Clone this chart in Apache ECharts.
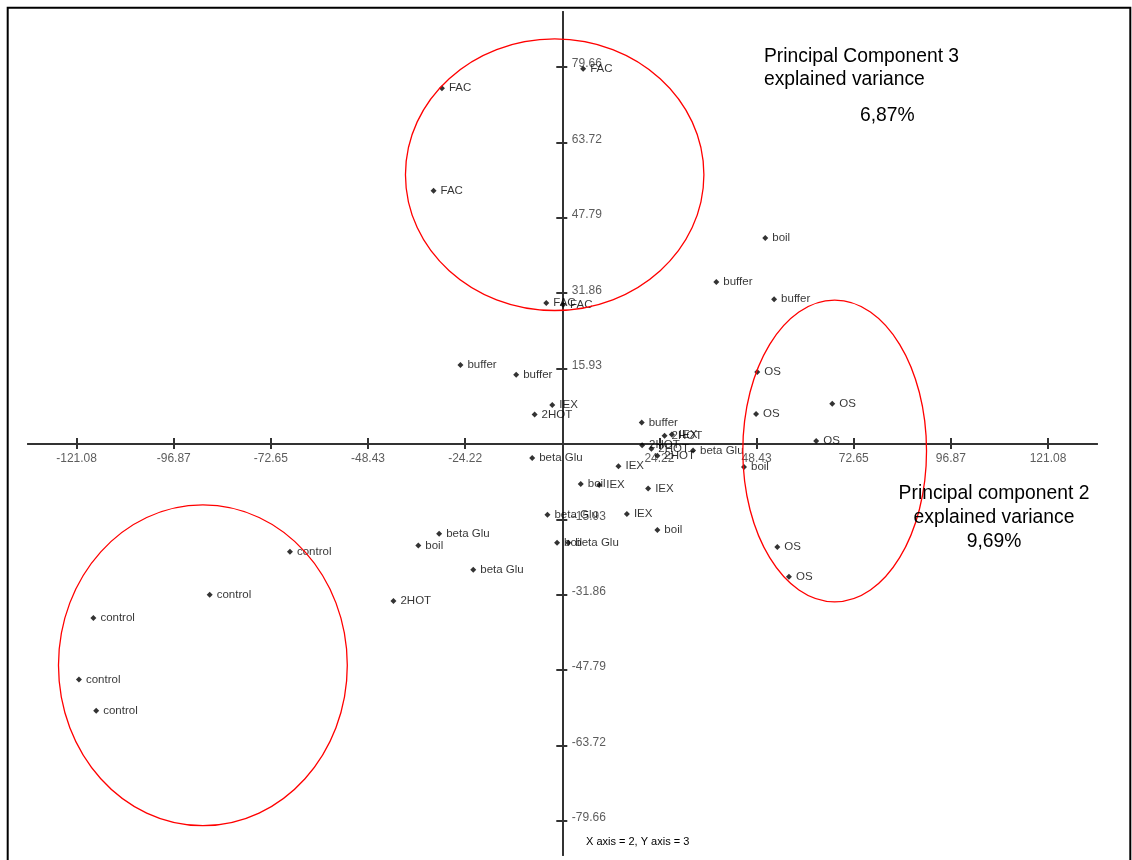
<!DOCTYPE html>
<html lang="en">
<head>
<meta charset="UTF-8">
<title>PCA scores</title>
<script src="https://cdn.jsdelivr.net/npm/echarts@6.0.0/dist/echarts.min.js"></script>
<style>
  html, body { margin: 0; padding: 0; width: 100%; height: 100%; background: #fff; }
  #chart { width: 1132px; height: 860px; }
</style>
</head>
<body>
<div id="chart"></div>
<script>
// sample names, PC2 (x) and PC3 (y) scores
var sampleNames = [
  'FAC', 'FAC', 'FAC', 'FAC', 'FAC',
  'boil', 'buffer', 'buffer',
  'OS', 'OS', 'OS', 'OS', 'boil', 'OS', 'OS',
  'buffer', 'buffer', 'IEX', '2HOT', 'buffer',
  '2HOT', 'IEX', '2HOT', '2HOT', '2HOT', 'beta Glu',
  'beta Glu', 'IEX', 'boil', 'IEX', 'IEX',
  'beta Glu', 'IEX', 'boil', 'boil', 'beta Glu',
  'beta Glu', 'boil', 'beta Glu',
  'control', 'control', 'control', 'control', 'control', '2HOT'
];
var pc2 = [
  5.2, -30.0, -32.1, -4.0, 0.2,
  50.6, 38.4, 52.8,
  48.6, 48.3, 67.3, 63.3, 45.3, 53.6, 56.5,
  -25.4, -11.5, -2.5, -6.9, 19.8,
  25.5, 27.3, 19.9, 22.2, 23.7, 32.6,
  -7.5, 14.0, 4.6, 9.2, 21.4,
  -3.7, 16.1, 23.7, -1.3, 1.5,
  -30.7, -35.9, -22.2,
  -67.9, -87.9, -116.9, -120.5, -116.2, -42.1
];
var pc3 = [
  79.3, 75.2, 53.5, 29.8, 29.4,
  43.5, 34.2, 30.6,
  15.2, 6.3, 8.5, 0.6, -4.9, -21.8, -28.1,
  16.7, 14.6, 8.2, 6.2, 4.5,
  1.7, 2.0, -0.3, -1.0, -2.5, -1.4,
  -3.0, -4.7, -8.5, -8.7, -9.4,
  -15.0, -14.8, -18.2, -20.9, -20.9,
  -19.0, -21.5, -26.6,
  -22.8, -31.9, -36.8, -49.8, -56.4, -33.2
];

var xTicks = [-121.08, -96.87, -72.65, -48.43, -24.22, 24.22, 48.43, 72.65, 96.87, 121.08];
var yTicks = [-79.66, -63.72, -47.79, -31.86, -15.93, 15.93, 31.86, 47.79, 63.72, 79.66];

// hand-drawn groupings: centre x, centre y, half width, half height (axis units)
var groupCx = [-1.9, 67.9, -89.6];
var groupCy = [56.9, -1.5, -46.8];
var groupRx = [37.2, 22.9, 36.0];
var groupRy = [28.7, 31.9, 33.9];

var chart = echarts.init(document.getElementById('chart'), null, { renderer: 'canvas' });

var axisColor = '#333';
var font = 'Liberation Sans, Arial, sans-serif';

var points = [];
for (var i = 0; i < sampleNames.length; i++) {
  points.push([pc2[i], pc3[i], sampleNames[i]]);
}
var groups = [];
for (var j = 0; j < groupCx.length; j++) {
  groups.push([groupCx[j], groupCy[j], groupRx[j], groupRy[j]]);
}
// tick labels sit on the zero lines, so place them through the scales
var xTickPts = xTicks.map(function (v) { return [v, 0]; });
var yTickPts = yTicks.map(function (v) { return [0, v]; });

function xAxisDef(inside) {
  return {
    type: 'value', min: -133.2, max: 133.3, position: 'bottom',
    axisLine: { show: true, onZero: true, lineStyle: { color: axisColor, width: 2 } },
    axisTick: { customValues: xTicks, inside: inside, length: inside ? 6 : 5,
      lineStyle: { color: axisColor, width: 2 } },
    axisLabel: { show: false },
    splitLine: { show: false }
  };
}
function yAxisDef(inside) {
  return {
    type: 'value', min: -86.9, max: 91.3, position: 'left',
    axisLine: { show: true, onZero: true, lineStyle: { color: axisColor, width: 2 } },
    axisTick: { customValues: yTicks, inside: inside, length: inside ? 5 : 6,
      lineStyle: { color: axisColor, width: 2 } },
    axisLabel: { show: false },
    splitLine: { show: false }
  };
}

function txt(s, x, y, align, size) {
  return { type: 'text', x: x, y: y, z: 100,
    style: { text: s, fontSize: size || 19.3, fontFamily: font, fill: '#000',
      textAlign: align, textVerticalAlign: 'middle' } };
}

var option = {
  animation: false,
  backgroundColor: '#fff',
  textStyle: { fontFamily: font },
  grid: { left: 28, right: 35, top: 12, bottom: 5, outerBoundsMode: 'none' },
  xAxis: [xAxisDef(false), xAxisDef(true)],
  yAxis: [yAxisDef(false), yAxisDef(true)],
  graphic: [
    { type: 'rect', silent: true, z: 100,
      shape: { x: 7.7, y: 7.7, width: 1122.6, height: 900 },
      style: { fill: 'none', stroke: '#000', lineWidth: 2 } },
    txt('Principal Component 3', 764, 57, 'left'),
    txt('explained variance', 764, 80, 'left'),
    txt('6,87%', 860, 116, 'left'),
    txt('Principal component 2', 994, 494, 'center'),
    txt('explained variance', 994, 518, 'center'),
    txt('9,69%', 994, 542, 'center'),
    txt('X axis = 2, Y axis = 3', 586, 842, 'left', 11)
  ],
  series: [
    {
      type: 'scatter',
      data: points,
      symbol: 'diamond',
      symbolSize: 6,
      itemStyle: { color: '#000' },
      label: {
        show: true, position: 'right', distance: 4,
        fontSize: 11.5, color: '#000', fontFamily: font,
        formatter: function (p) { return p.data[2]; }
      },
      emphasis: { disabled: true },
      z: 3
    },
    {
      type: 'scatter',
      data: xTickPts,
      symbolSize: 1,
      silent: true,
      itemStyle: { color: 'transparent' },
      label: {
        show: true, position: 'bottom', distance: 8,
        fontSize: 12, color: '#333', fontFamily: font,
        formatter: function (p) { return p.data[0].toFixed(2); }
      },
      z: 2
    },
    {
      type: 'scatter',
      data: yTickPts,
      symbolSize: 1,
      silent: true,
      itemStyle: { color: 'transparent' },
      label: {
        show: true, position: 'right', distance: 9, offset: [0, -3],
        fontSize: 12, color: '#333', fontFamily: font,
        formatter: function (p) { return p.data[1].toFixed(2); }
      },
      z: 2
    },
    {
      type: 'custom',
      data: groups,
      clip: false,
      silent: true,
      z: 4,
      renderItem: function (params, api) {
        var c = api.coord([api.value(0), api.value(1)]);
        var s = api.size([api.value(2), api.value(3)]);
        return {
          type: 'ellipse',
          shape: { cx: c[0], cy: c[1], rx: s[0], ry: s[1] },
          style: { fill: 'none', stroke: '#ff0000', lineWidth: 1.3 }
        };
      }
    }
  ]
};

chart.setOption(option);
</script>
</body>
</html>
